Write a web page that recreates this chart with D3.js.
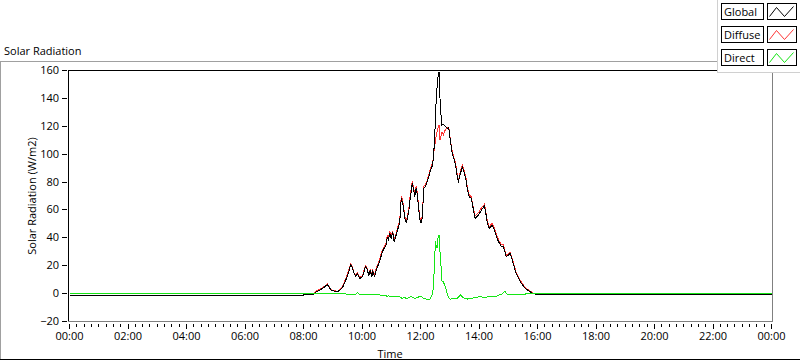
<!DOCTYPE html>
<html><head><meta charset="utf-8">
<script src="https://cdn.jsdelivr.net/npm/d3@7"></script>
<style>
html,body{margin:0;padding:0;background:#fff;}
svg{display:block;font-family:"Open Sans",sans-serif;}
</style></head><body>
<svg id="c" width="800" height="361"></svg>
<script>
const times = [
 "00:00","08:00","08:21","08:27","08:35","08:44","08:49","08:53","08:57",
 "09:02","09:10","09:14","09:20","09:24","09:28","09:33","09:37","09:41","09:44","09:47","09:51","09:55",
 "10:01","10:07","10:11","10:14","10:17","10:20","10:22","10:26","10:30","10:34","10:38","10:42","10:46","10:49","10:52","10:54","10:57",
 "11:00","11:03","11:06","11:09","11:13","11:16","11:18","11:19","11:21","11:24","11:26","11:28","11:31","11:33","11:36","11:38","11:41","11:43","11:46","11:48","11:51","11:54","11:56","11:59",
 "12:01","12:03","12:05","12:07","12:10","12:14","12:17","12:20","12:25","12:27","12:29","12:31","12:32","12:34","12:36","12:38","12:40","12:42","12:44","12:47","12:51","12:55","12:58",
 "13:01","13:05","13:12","13:16","13:18","13:22","13:26","13:30","13:34","13:36","13:40","13:44","13:48","13:52","13:59",
 "14:05","14:11","14:13","14:17","14:21","14:27","14:31","14:35","14:40","14:46","14:50","14:53","14:56",
 "15:04","15:10","15:16","15:25","15:35","15:49","15:59","24:00"
];
const globalRad = [
 -1,-1,-0.5,1.5,2.9,5,6.5,4.5,2.4,
 2.0,1.2,2.5,4.3,7.5,10.8,16,20.9,18,14,12.5,14.4,10.8,
 12,19.2,17.3,12.5,16.8,12,15.6,12.5,18,21,25.5,30,33,34,40.7,38.4,43.2,
 39.6,43.9,37.2,40.7,45.6,49.2,54,62.4,68.4,63.6,58.7,54,50.4,54,58.7,66,73.1,79.2,74.4,69.5,75.6,69.5,61.2,52.8,
 50.4,52.8,63.6,75.6,76.8,80.4,84,87.6,92.4,99.6,111.6,128,138,148,156,159,140,128,121,121.5,120,118.5,119,
 110,100.8,92.4,82.8,80.4,86.4,90.7,86.4,80.4,74.4,69.5,68.4,61.2,54,56.4,
 60,62.8,60,50.4,46.8,49.2,46.1,42,37.2,33.6,34,30,26.4,
 28.8,22,14.4,8.4,3.6,0.4,-0.8,-1
];
const diffuseRad = [
 -1,-1,-0.3,2,3.4,5.5,6.8,5,2.8,
 2.3,1.5,3,5,8.5,12,17.5,21.5,18.5,14.5,13,15,11.5,
 13,20,18,13,17.5,13,16.5,13.5,19,22.5,27,31.5,34,35.5,42,39.5,44.5,
 41,45,38.5,42,47,51,56,64.5,70,65,60,55.5,51.5,55.5,60.5,68,75,80.5,76,71,77,71,62.5,54,
 51.5,54,65,77,78,81.5,85.5,89,94,100,106,110,113,116,119,121,110,113,116,114,117.6,118.8,119.5,
 111,102,93.5,84,81.5,88,92,88,81.5,76,71,69.5,62.5,55.5,58,
 61.5,64,61,52,48,50.5,47.5,43.5,38.5,35,35,31,27.5,
 29.5,23,15.5,9.2,4.2,0.8,-0.6,-1
];
const directRad = [
 0.3,0.3,0.3,0.3,0.3,0.3,0.3,0.3,0.3,
 0.3,0.3,0.3,0.3,0.3,-0.5,-0.5,-0.5,-0.5,-0.5,-0.5,0.8,-0.5,
 -0.5,-0.5,-0.5,-0.5,-0.5,-0.5,-0.7,-0.7,-0.7,-0.7,-1.2,-1.2,-1.5,-1.5,-2,-1.5,-2,
 -2,-1.8,-2.4,-2,-2.4,-2.4,-2.4,-2.8,-3.2,-3.2,-2.4,-2.8,-3.6,-3.6,-2.8,-2.4,-2.4,-2.4,-3,-3.2,-3.2,-2.8,-2.4,-2,
 -2,-2.4,-3.2,-3.6,-3.6,-4.3,-4.3,-3.6,0,7,26,38,34,33,40,42,30,20,9,8.4,4.8,-0.5,-3.2,
 -4.1,-3.6,-3.6,-3.2,-2.4,-1,-2.4,-3.2,-3.6,-3.9,-3.6,-3.4,-3.2,-2.8,-2.4,
 -2.4,-2.7,-2.7,-2.4,-2.4,-2,-2,-2,-1.2,-0.5,0.5,1.9,-0.2,
 -0.5,-0.5,-0.8,-0.5,-0.3,0.1,0.3,0.3
];
const xTickLabels = ["00:00","02:00","04:00","06:00","08:00","10:00","12:00","14:00","16:00","18:00","20:00","22:00","00:00"];
const yTicks = [-20,0,20,40,60,80,100,120,140,160];
const seriesNames = ["Global","Diffuse","Direct"];
const seriesColors = ["#000000","#ff3434","#14e614"];

const toMin = s => { const p = s.split(":").map(Number); return p[0]*60 + p[1]; };
const svg = d3.select("#c");
const x = d3.scaleLinear().domain([0,1440]).range([69,771]);
const y = d3.scaleLinear().domain([-20,160]).range([321,70]);

// outer frame
svg.append("line").attr("x1",0).attr("x2",717).attr("y1",61.5).attr("y2",61.5).attr("stroke","#a0a0a0");
svg.append("line").attr("x1",0.5).attr("x2",0.5).attr("y1",61).attr("y2",359).attr("stroke","#a0a0a0");
svg.append("line").attr("x1",0).attr("x2",800).attr("y1",359.5).attr("y2",359.5).attr("stroke","#000");

// title
svg.append("text").attr("x",4).attr("y",55).attr("font-size",11).attr("fill","#000").text("Solar Radiation");

// plot frame
svg.append("line").attr("x1",68).attr("x2",773).attr("y1",70.5).attr("y2",70.5).attr("stroke","#000");
svg.append("line").attr("x1",68.5).attr("x2",68.5).attr("y1",70).attr("y2",322).attr("stroke","#000");
svg.append("line").attr("x1",68).attr("x2",773).attr("y1",321.5).attr("y2",321.5).attr("stroke","#808080");
svg.append("line").attr("x1",772.5).attr("x2",772.5).attr("y1",70).attr("y2",322).attr("stroke","#808080");

// y axis
const yAxis = svg.append("g").attr("transform","translate(67,0)")
  .call(d3.axisLeft(y).tickValues(yTicks).tickSize(5).tickPadding(3).tickFormat(d3.format("d")));
yAxis.select(".domain").remove();
yAxis.selectAll("line").attr("shape-rendering","crispEdges");
yAxis.selectAll("text").attr("font-size",11).attr("font-family","Open Sans").attr("fill","#000");

// x axis minor ticks
const minorVals = d3.range(0,1441,15).filter(v => v % 120 !== 0);
const xMinor = svg.append("g").attr("transform","translate(0,324)")
  .call(d3.axisBottom(x).tickValues(minorVals).tickSize(3).tickFormat(""));
xMinor.select(".domain").remove();
xMinor.selectAll("line").attr("shape-rendering","crispEdges");
const xAxis = svg.append("g").attr("transform","translate(0,324)")
  .call(d3.axisBottom(x).tickValues(xTickLabels.map((d,i)=>i*120)).tickSize(5).tickPadding(3)
    .tickFormat((d,i)=>xTickLabels[i]));
xAxis.select(".domain").remove();
xAxis.selectAll("line").attr("shape-rendering","crispEdges");
xAxis.selectAll("text").attr("font-size",11).attr("font-family","Open Sans").attr("fill","#000");

// axis titles
svg.append("text").attr("x",390).attr("y",358).attr("text-anchor","middle").attr("font-size",11).text("Time");
svg.append("text").attr("transform","translate(36,196) rotate(-90)").attr("text-anchor","middle").attr("font-size",11).text("Solar Radiation (W/m2)");

// data
svg.append("clipPath").attr("id","clip").append("rect").attr("x",69).attr("y",71).attr("width",703).attr("height",250);
const pts = times.map(toMin);
const line = vals => d3.line().x((d,i)=>x(pts[i])+0.5).y(d=>y(d)+0.5)(vals);
const plot = svg.append("g").attr("clip-path","url(#clip)");
[[diffuseRad,1],[globalRad,0],[directRad,2]].forEach(([vals,ci]) => {
  plot.append("path").attr("d",line(vals)).attr("fill","none").attr("stroke",seriesColors[ci])
    .attr("stroke-width",1).attr("shape-rendering","crispEdges");
});

// legend
const lg = svg.append("g");
lg.append("rect").attr("x",717).attr("y",0).attr("width",83).attr("height",72).attr("fill","#fff");
lg.append("line").attr("x1",717.5).attr("x2",717.5).attr("y1",0).attr("y2",72).attr("stroke","#d0d0d0");
lg.append("line").attr("x1",717).attr("x2",800).attr("y1",72.5).attr("y2",72.5).attr("stroke","#d0d0d0");
seriesNames.forEach((name,i) => {
  const y0 = 3.5 + i*23;
  lg.append("rect").attr("x",721.5).attr("y",y0).attr("width",42).attr("height",16).attr("fill","#fff").attr("stroke","#000");
  lg.append("text").attr("x",724).attr("y",y0+12.5).attr("font-size",11).attr("fill","#000").text(name);
  lg.append("rect").attr("x",767.5).attr("y",y0).attr("width",29).attr("height",16).attr("fill","#fff").attr("stroke","#000");
  const sx = 767.5, sy = y0;
  lg.append("polyline").attr("points",[[sx+2,sy+13],[sx+9,sy+4],[sx+17,sy+13],[sx+26,sy+3]].map(p=>p.join(",")).join(" "))
    .attr("fill","none").attr("stroke",seriesColors[i]);
});
</script>
</body></html>
